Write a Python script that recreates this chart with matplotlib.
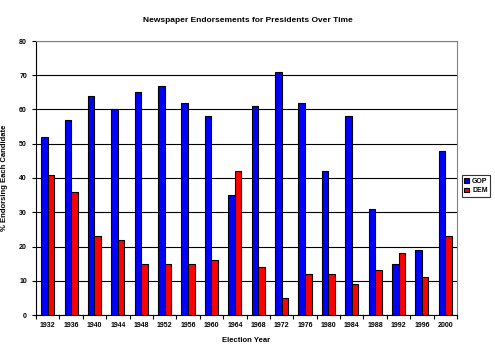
import numpy as np
import matplotlib.pyplot as plt

years = ['1932', '1936', '1940', '1944', '1948', '1952', '1956', '1960', '1964',
         '1968', '1972', '1976', '1980', '1984', '1988', '1992', '1996', '2000']
gop = [52, 57, 64, 60, 65, 67, 62, 58, 35, 61, 71, 62, 42, 58, 31, 15, 19, 48]
dem = [41, 36, 23, 22, 15, 15, 15, 16, 42, 14, 5, 12, 12, 9, 13, 18, 11, 23]

plt.rcParams['font.family'] = ['Liberation Sans', 'DejaVu Sans']
plt.rcParams['font.weight'] = 'bold'

fig = plt.figure(figsize=(4.95, 3.55), dpi=100)
ax = fig.add_axes([36 / 495, 1 - 315 / 355, 421 / 495, 274 / 355])

x = np.arange(len(years))
w = 0.28
ax.bar(x - w / 2, gop, w, color='#0000ff', edgecolor='black', linewidth=0.8, label='GOP', zorder=3)
ax.bar(x + w / 2, dem, w, color='#ff0000', edgecolor='black', linewidth=0.8, label='DEM', zorder=3)

ax.set_xlim(-0.5, len(years) - 0.5)
ax.set_ylim(0, 80)
ax.set_yticks(range(0, 81, 10))
ax.set_xticks(x)
ax.set_xticklabels(years, fontsize=5)
ax.set_xticks(np.arange(-0.5, len(years), 1), minor=True)
ax.tick_params(axis='x', which='major', length=0, pad=5)
ax.tick_params(axis='x', which='minor', length=3, direction='out', width=0.8)
ax.tick_params(axis='y', labelsize=5, length=3, width=0.8, direction='out')
ax.grid(axis='y', color='black', linewidth=0.8, zorder=0)

for s in ['top', 'right']:
    ax.spines[s].set_color('#808080')
for s in ['left', 'bottom']:
    ax.spines[s].set_color('black')

ax.set_xlabel('Election Year', fontsize=5.5, fontweight='bold', labelpad=6)
ax.set_ylabel('% Endorsing Each Candidate', fontsize=5.5, fontweight='bold', labelpad=8)
fig.suptitle('Newspaper Endorsements for Presidents Over Time', fontsize=6, fontweight='bold', y=1 - 17 / 355)

leg = fig.legend(loc='center', bbox_to_anchor=(476 / 495, 1 - 186 / 355), fontsize=5,
                 frameon=True, fancybox=False, edgecolor='black', handlelength=0.7,
                 handleheight=0.7, borderpad=0.4, labelspacing=0.4, handletextpad=0.4)
leg.get_frame().set_linewidth(0.8)

fig.savefig('out.png', dpi=100)
